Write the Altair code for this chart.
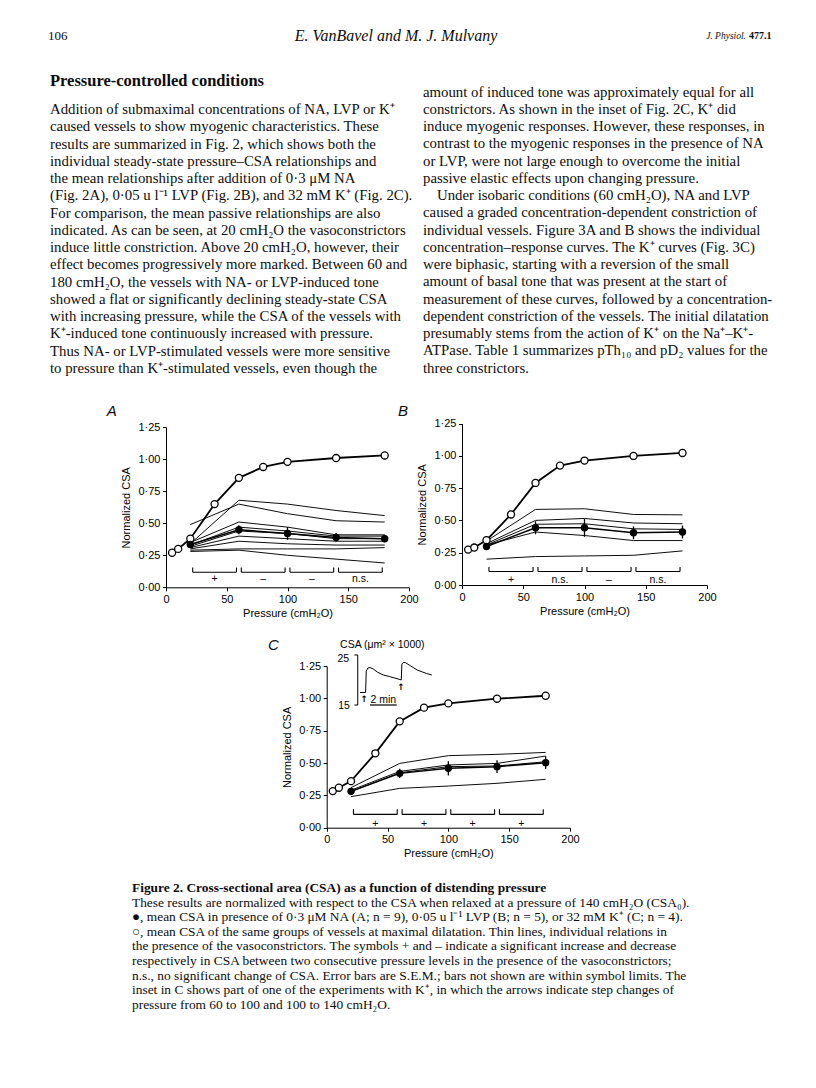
import altair as alt
import pandas as pd

# ---------------- data ----------------
P_PASSIVE = [5, 10, 20, 40, 60, 80, 100, 140, 180]
P_ACTIVE = [20, 60, 100, 140, 180]

A_PASSIVE = [0.27, 0.30, 0.38, 0.65, 0.855, 0.94, 0.98, 1.01, 1.03]
A_MEAN = [0.335, 0.45, 0.42, 0.39, 0.38]
A_SEM = [0.015, 0.035, 0.05, 0.035, 0.03]
A_VESSELS = [
    [0.34, 0.68, 0.65, 0.60, 0.56],
    [0.49, 0.65, 0.575, 0.52, 0.51],
    [0.35, 0.51, 0.47, 0.41, 0.41],
    [0.33, 0.47, 0.44, 0.40, 0.40],
    [0.32, 0.44, 0.42, 0.38, 0.38],
    [0.31, 0.40, 0.38, 0.36, 0.36],
    [0.30, 0.36, 0.34, 0.33, 0.33],
    [0.29, 0.30, 0.30, 0.30, 0.31],
    [0.28, 0.29, 0.25, 0.22, 0.19],
]
A_SIG = ["+", "\u2013", "\u2013", "n.s."]

B_PASSIVE = [0.274, 0.29, 0.347, 0.546, 0.79, 0.924, 0.963, 0.999, 1.022]
B_MEAN = [0.298, 0.443, 0.443, 0.404, 0.41]
B_SEM = [0.015, 0.05, 0.07, 0.05, 0.05]
B_VESSELS = [
    [0.34, 0.585, 0.59, 0.546, 0.543],
    [0.32, 0.50, 0.515, 0.48, 0.474],
    [0.31, 0.47, 0.474, 0.435, 0.43],
    [0.31, 0.41, 0.383, 0.344, 0.344],
    [0.20, 0.22, 0.225, 0.23, 0.264],
]
B_SIG = ["+", "n.s.", "\u2013", "n.s."]

C_PASSIVE = [0.283, 0.309, 0.36, 0.575, 0.822, 0.928, 0.961, 0.997, 1.02]
C_MEAN = [0.281, 0.42, 0.459, 0.472, 0.503]
C_SEM = [0.01, 0.035, 0.055, 0.05, 0.05]
C_VESSELS = [
    [0.31, 0.497, 0.557, 0.567, 0.582],
    [0.29, 0.435, 0.485, 0.497, 0.554],
    [0.28, 0.425, 0.472, 0.477, 0.51],
    [0.24, 0.304, 0.322, 0.343, 0.374],
]
C_SIG = ["+", "+", "+", "+"]

BR_START = [22, 62, 102, 142]
BR_END = [58, 98, 138, 178]
BR_MID = [40, 80, 120, 160]

# inset trace (time in min, CSA in um^2 x 1000)
INSET_T = [0, 0.42, 0.47, 0.6, 0.75, 1.0, 1.3, 1.75, 2.2, 2.6, 3.0, 3.1, 3.15, 3.25, 3.4, 3.7, 4.0, 4.3, 4.7, 5.0, 5.4]
INSET_CSA = [17.5, 17.5, 21.8, 22.4, 22.5, 22.2, 21.6, 21.0, 20.7, 20.4, 20.1, 20.0, 23.2, 23.5, 23.5, 23.0, 22.5, 22.0, 21.6, 21.3, 21.0]

# ---------------- text ----------------
HEADER_NUM = "106"
HEADER_AUTH = "E. VanBavel and M. J. Mulvany"
HEADER_J = "J. Physiol."
HEADER_VOL = "477.1"
HEADING = "Pressure-controlled conditions"

LEFT_COL = [
    "Addition of submaximal concentrations of NA, LVP or K\u207a",
    "caused vessels to show myogenic characteristics. These",
    "results are summarized in Fig. 2, which shows both the",
    "individual steady-state pressure\u2013CSA relationships and",
    "the mean relationships after addition of 0\u00b73 \u03bcM NA",
    "(Fig. 2A), 0\u00b705 u l\u207b\u00b9 LVP (Fig. 2B), and 32 mM K\u207a (Fig. 2C).",
    "For comparison, the mean passive relationships are also",
    "indicated. As can be seen, at 20 cmH\u2082O the vasoconstrictors",
    "induce little constriction. Above 20 cmH\u2082O, however, their",
    "effect becomes progressively more marked. Between 60 and",
    "180 cmH\u2082O, the vessels with NA- or LVP-induced tone",
    "showed a flat or significantly declining steady-state CSA",
    "with increasing pressure, while the CSA of the vessels with",
    "K\u207a-induced tone continuously increased with pressure.",
    "Thus NA- or LVP-stimulated vessels were more sensitive",
    "to pressure than K\u207a-stimulated vessels, even though the",
]
RIGHT_COL = [
    "amount of induced tone was approximately equal for all",
    "constrictors. As shown in the inset of Fig. 2C, K\u207a did",
    "induce myogenic responses. However, these responses, in",
    "contrast to the myogenic responses in the presence of NA",
    "or LVP, were not large enough to overcome the initial",
    "passive elastic effects upon changing pressure.",
    "Under isobaric conditions (60 cmH\u2082O), NA and LVP",
    "caused a graded concentration-dependent constriction of",
    "individual vessels. Figure 3A and B shows the individual",
    "concentration\u2013response curves. The K\u207a curves (Fig. 3C)",
    "were biphasic, starting with a reversion of the small",
    "amount of basal tone that was present at the start of",
    "measurement of these curves, followed by a concentration-",
    "dependent constriction of the vessels. The initial dilatation",
    "presumably stems from the action of K\u207a on the Na\u207a\u2013K\u207a-",
    "ATPase. Table 1 summarizes pTh\u2081\u2080 and pD\u2082 values for the",
    "three constrictors.",
]
CAP_TITLE = "Figure 2. Cross-sectional area (CSA) as a function of distending pressure"
CAP_LINES = [
    "These results are normalized with respect to the CSA when relaxed at a pressure of 140 cmH\u2082O (CSA\u2080).",
    "\u25cf, mean CSA in presence of 0\u00b73 \u03bcM NA (A; n = 9), 0\u00b705 u l\u207b\u00b9 LVP (B; n = 5), or 32 mM K\u207a (C; n = 4).",
    "\u25cb, mean CSA of the same groups of vessels at maximal dilatation. Thin lines, individual relations in",
    "the presence of the vasoconstrictors. The symbols + and \u2013 indicate a significant increase and decrease",
    "respectively in CSA between two consecutive pressure levels in the presence of the vasoconstrictors;",
    "n.s., no significant change of CSA. Error bars are S.E.M.; bars not shown are within symbol limits. The",
    "inset in C shows part of one of the experiments with K\u207a, in which the arrows indicate step changes of",
    "pressure from 60 to 100 and 100 to 140 cmH\u2082O.",
]

# ---------------- layout (page pixels; the chart origin sits at page 8,8) ----------------
OFF = 8
W, H = 800, 1072
SERIF = "Liberation Serif"
SANS = "Liberation Sans"
INK = "#0d0d0d"


def c(v):
    return v - OFF


def text_layer(xs, ys, texts, align="left", **kw):
    df = pd.DataFrame({"x": [c(x) for x in xs], "y": [c(y) for y in ys], "t": texts})
    return alt.Chart(df).mark_text(align=align, baseline="middle", color=INK, **kw).encode(
        x=alt.X("x:Q", scale=None, axis=None),
        y=alt.Y("y:Q", scale=None, axis=None),
        text="t:N",
    )


def panel(passive, mean, sem, vessels, sig, levels, xr, yr):
    """xr / yr: page-pixel extents of the plot area (left, right) and (bottom, top)."""
    xsc = alt.Scale(domain=[0, 200], range=[c(xr[0]), c(xr[1])], nice=False, zero=False)
    ysc = alt.Scale(domain=[0, 1.25], range=[c(yr[0]), c(yr[1])], nice=False, zero=False)
    xax = alt.Axis(
        values=[0, 50, 100, 150, 200], title="Pressure (cmH\u2082O)", orient="bottom",
        offset=c(yr[0]) - H, titlePadding=3, labelFlush=False,
    )
    yax = alt.Axis(
        values=[0, 0.25, 0.5, 0.75, 1.0, 1.25], title="Normalized CSA", orient="left",
        offset=-c(xr[0]), titlePadding=6, labelFlush=False,
        labelExpr="replace(format(datum.value, '.2f'), '.', '\u00b7')",
    )
    vdf = pd.DataFrame(
        [{"p": p, "v": v, "id": i} for i, row in enumerate(vessels) for p, v in zip(P_ACTIVE, row)]
    )
    thin = alt.Chart(vdf).mark_line(color="black", strokeWidth=0.95).encode(
        x=alt.X("p:Q", scale=xsc, axis=xax), y=alt.Y("v:Q", scale=ysc, axis=yax), detail="id:N"
    )
    pdf = pd.DataFrame({"p": P_PASSIVE, "v": passive})
    pline = alt.Chart(pdf).mark_line(color="black", strokeWidth=1.8).encode(x="p:Q", y="v:Q")
    ppts = alt.Chart(pdf).mark_point(
        shape="circle", filled=True, fill="white", stroke="black", strokeWidth=1.3, size=50, opacity=1
    ).encode(x="p:Q", y="v:Q")
    mdf = pd.DataFrame({"p": P_ACTIVE, "v": mean})
    edf = pd.DataFrame(
        {"p": P_ACTIVE, "v": [m - s for m, s in zip(mean, sem)], "hi": [m + s for m, s in zip(mean, sem)]}
    )
    mline = alt.Chart(mdf).mark_line(color="black", strokeWidth=1.5).encode(x="p:Q", y="v:Q")
    err = alt.Chart(edf).mark_rule(color="black", strokeWidth=1.3).encode(x="p:Q", y="v:Q", y2="hi:Q")
    mpts = alt.Chart(mdf).mark_point(shape="circle", filled=True, color="black", size=55, opacity=1).encode(
        x="p:Q", y="v:Q"
    )
    lv, top, ty = levels
    hdf = pd.DataFrame({"p": BR_START, "e": BR_END, "v": [lv] * 4})
    hbar = alt.Chart(hdf).mark_rule(color="black", strokeWidth=1.1).encode(x="p:Q", x2="e:Q", y="v:Q")
    tdf = pd.DataFrame({"p": BR_START + BR_END, "v": [lv] * 8, "t": [top] * 8})
    ticks = alt.Chart(tdf).mark_rule(color="black", strokeWidth=1.1).encode(x="p:Q", y="v:Q", y2="t:Q")
    sdf = pd.DataFrame({"p": BR_MID, "v": [ty] * 4, "s": sig})
    sigt = alt.Chart(sdf).mark_text(font=SANS, fontSize=10.5, color="black", baseline="middle").encode(
        x="p:Q", y="v:Q", text="s:N"
    )
    return alt.layer(thin, pline, ppts, mline, err, mpts, hbar, ticks, sigt)


panelA = panel(A_PASSIVE, A_MEAN, A_SEM, A_VESSELS, A_SIG, (0.118, 0.154, 0.065), (166, 409), (587.3, 427.3))
panelB = panel(B_PASSIVE, B_MEAN, B_SEM, B_VESSELS, B_SIG, (0.105, 0.14, 0.04), (462, 707), (585, 423.5))
panelC = panel(C_PASSIVE, C_MEAN, C_SEM, C_VESSELS, C_SIG, (0.103, 0.143, 0.03), (326.7, 570), (827.7, 666))

# ---- inset of panel C (own time / CSA scales) ----
ISX = alt.Scale(domain=[0, 6], range=[c(360), c(360 + 6 * 13.3)], nice=False, zero=False)
ISY = alt.Scale(domain=[15, 25], range=[c(705), c(655)], nice=False, zero=False)


def ienc():
    return dict(x=alt.X("t:Q", scale=ISX, axis=None), y=alt.Y("c:Q", scale=ISY, axis=None))


trace = alt.Chart(pd.DataFrame({"t": INSET_T, "c": INSET_CSA})).mark_line(color="black", strokeWidth=1).encode(**ienc())
sbar = alt.Chart(pd.DataFrame({"t": [-0.17], "c": [15], "c2": [25]})).mark_rule(color="black", strokeWidth=1).encode(
    **ienc(), y2="c2:Q"
)
sticks = alt.Chart(pd.DataFrame({"t": [-0.42, -0.42], "t2": [-0.17, -0.17], "c": [15, 25]})).mark_rule(
    color="black", strokeWidth=1
).encode(**ienc(), x2="t2:Q")
tbar = alt.Chart(pd.DataFrame({"t": [0.75], "t2": [2.76], "c": [15.0]})).mark_rule(color="black", strokeWidth=1.2).encode(
    **ienc(), x2="t2:Q"
)
itxt = alt.Chart(
    pd.DataFrame({"t": [-1.25, -1.2, 1.75], "c": [24.3, 14.8, 16.1], "s": ["25", "15", "2 min"]})
).mark_text(font=SANS, fontSize=10.5, color="black", baseline="middle", align="center").encode(**ienc(), text="s:N")
ititle = alt.Chart(pd.DataFrame({"t": [-1.5], "c": [27.1], "s": ["CSA (\u03bcm\u00b2 \u00d7 1000)"]})).mark_text(
    font=SANS, fontSize=10.5, color="black", baseline="middle", align="left"
).encode(**ienc(), text="s:N")
arrows = alt.Chart(pd.DataFrame({"t": [0.32, 3.08], "c": [16.3, 18.7], "s": ["\u2191", "\u2191"]})).mark_text(
    font="DejaVu Sans", fontSize=9, fontWeight="bold", color="black", baseline="middle", align="center"
).encode(**ienc(), text="s:N")
inset = alt.layer(trace, sbar, sticks, tbar, itxt, ititle, arrows)

# ---- page text ----
left_y = [110 + 17.25 * i for i in range(len(LEFT_COL))]
right_y = [92.7 + 17.25 * i for i in range(len(RIGHT_COL))]
right_x = [423] * len(RIGHT_COL)
right_x[6] = 437
cap_y = [888 + 14.6 * (i + 1) for i in range(len(CAP_LINES))]

texts = [
    text_layer([48], [36], [HEADER_NUM], font=SERIF, fontSize=13),
    text_layer([396], [36], [HEADER_AUTH], align="center", font=SERIF, fontSize=16, fontStyle="italic"),
    text_layer([746], [36], [HEADER_J], align="right", font=SERIF, fontSize=9.5, fontStyle="italic"),
    text_layer([749], [36], [HEADER_VOL], font=SERIF, fontSize=10, fontWeight="bold"),
    text_layer([50], [81], [HEADING], font=SERIF, fontSize=16.5, fontWeight="bold"),
    text_layer([50] * len(LEFT_COL), left_y, LEFT_COL, font=SERIF, fontSize=14.8),
    text_layer(right_x, right_y, RIGHT_COL, font=SERIF, fontSize=14.8),
    text_layer([111.7, 403, 273.3], [410.7, 410.7, 645], ["A", "B", "C"], align="center", font=SANS, fontSize=15,
               fontStyle="italic"),
    text_layer([132], [888], [CAP_TITLE], font=SERIF, fontSize=13.4, fontWeight="bold"),
    text_layer([132] * len(CAP_LINES), cap_y, CAP_LINES, font=SERIF, fontSize=13.4),
]

chart = alt.layer(panelA, panelB, panelC, inset, *texts).resolve_scale(
    x="independent", y="independent"
).properties(width=W, height=H, padding=0).configure_view(stroke=None).configure_axis(
    grid=False,
    domainColor="black",
    tickColor="black",
    labelColor="black",
    titleColor="black",
    labelFont=SANS,
    titleFont=SANS,
    labelFontSize=11,
    titleFontSize=11,
    titleFontWeight="normal",
    tickSize=3.5,
    labelPadding=2.5,
    labelOverlap=False,
    domainWidth=1,
    tickWidth=1,
)

chart.save("out.html", embed_options={"renderer": "svg", "actions": False})
